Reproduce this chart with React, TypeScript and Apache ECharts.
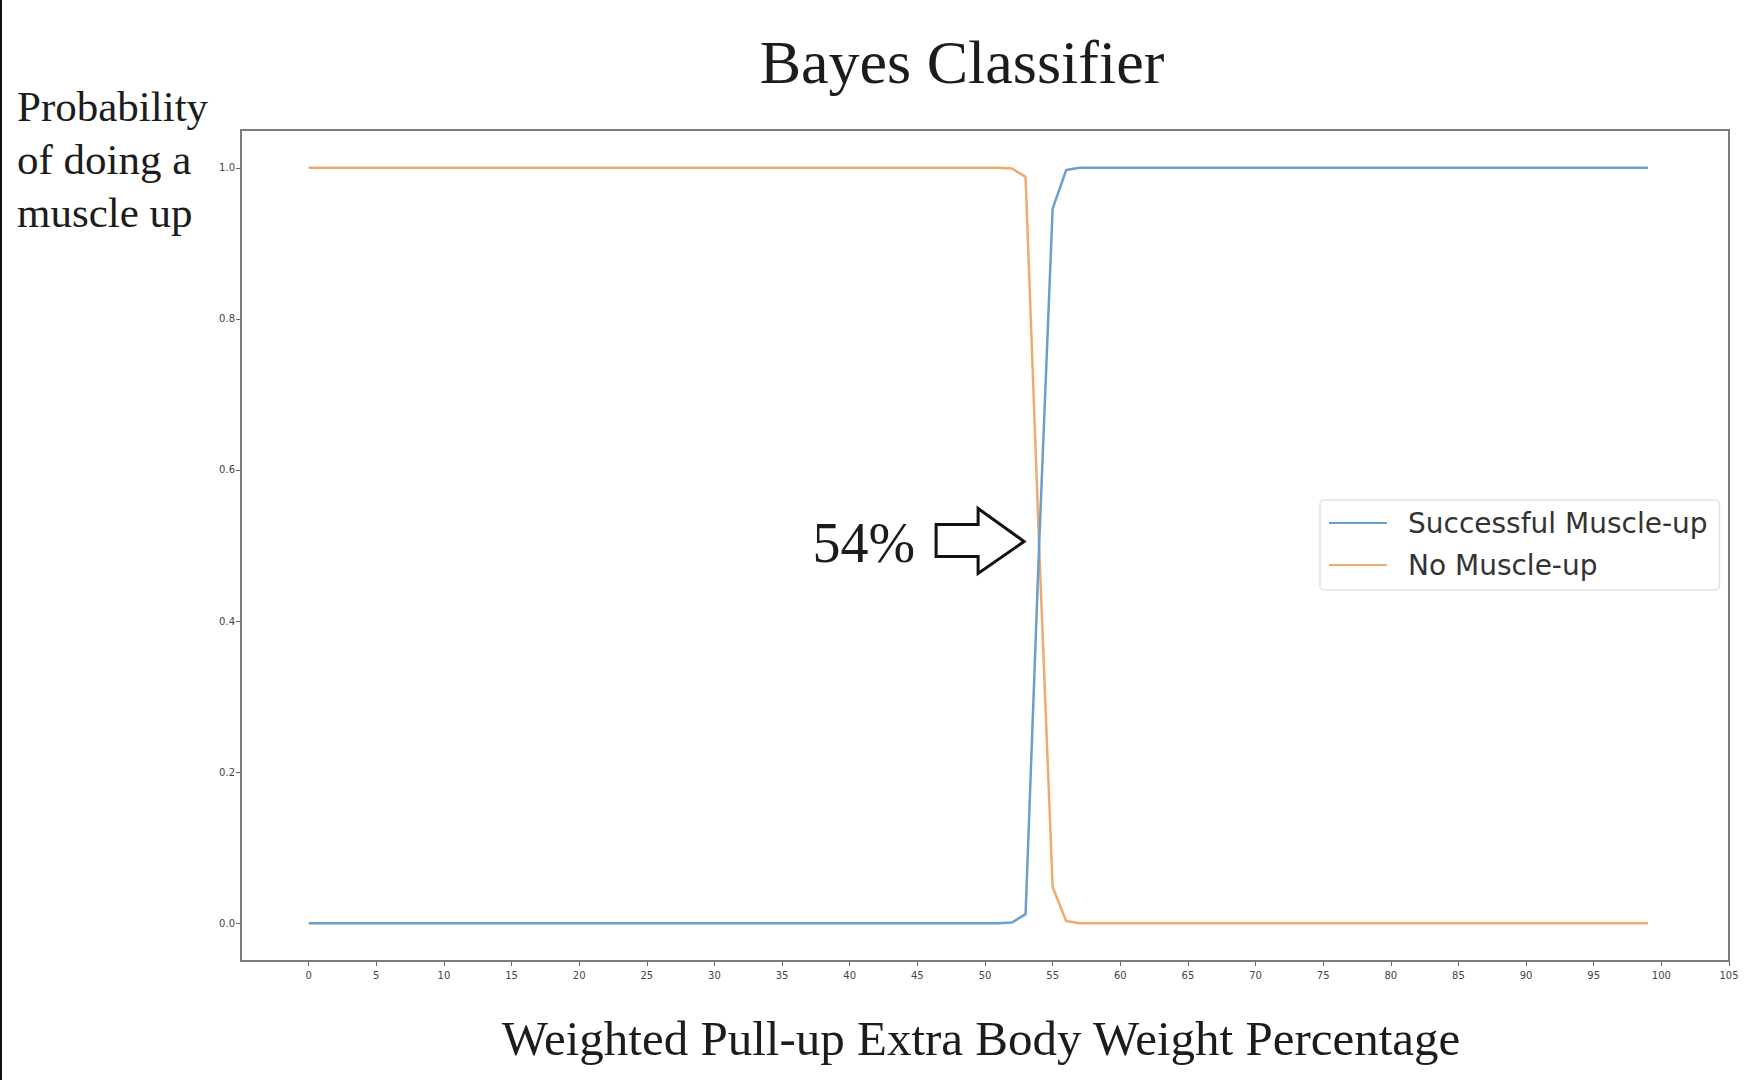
import React, { useEffect, useRef } from "react";
import * as echarts from "echarts";

// x positions (weighted pull-up extra body weight, %)
const xValues: number[] = Array.from({ length: 100 }, (_, i) => i);

const successProb: number[] = [
  0, 0, 0, 0, 0, 0, 0, 0, 0, 0,
  0, 0, 0, 0, 0, 0, 0, 0, 0, 0,
  0, 0, 0, 0, 0, 0, 0, 0, 0, 0,
  0, 0, 0, 0, 0, 0, 0, 0, 0, 0,
  0, 0, 0, 0, 0, 0, 0, 0, 0, 0,
  0, 0, 0.001, 0.012, 0.5, 0.946, 0.997, 1, 1, 1,
  1, 1, 1, 1, 1, 1, 1, 1, 1, 1,
  1, 1, 1, 1, 1, 1, 1, 1, 1, 1,
  1, 1, 1, 1, 1, 1, 1, 1, 1, 1,
  1, 1, 1, 1, 1, 1, 1, 1, 1, 1,
];

const noMuscleProb: number[] = [
  1, 1, 1, 1, 1, 1, 1, 1, 1, 1,
  1, 1, 1, 1, 1, 1, 1, 1, 1, 1,
  1, 1, 1, 1, 1, 1, 1, 1, 1, 1,
  1, 1, 1, 1, 1, 1, 1, 1, 1, 1,
  1, 1, 1, 1, 1, 1, 1, 1, 1, 1,
  1, 1, 0.999, 0.988, 0.5, 0.048, 0.003, 0, 0, 0,
  0, 0, 0, 0, 0, 0, 0, 0, 0, 0,
  0, 0, 0, 0, 0, 0, 0, 0, 0, 0,
  0, 0, 0, 0, 0, 0, 0, 0, 0, 0,
  0, 0, 0, 0, 0, 0, 0, 0, 0, 0,
];

const xTicks: number[] = [0, 5, 10, 15, 20, 25, 30, 35, 40, 45, 50, 55, 60, 65, 70, 75, 80, 85, 90, 95, 100, 105];
const yTicks: number[] = [0, 0.2, 0.4, 0.6, 0.8, 1.0];

const seriesNames = ["Successful Muscle-up", "No Muscle-up"];
const titleText = "Bayes Classifier";
const yTitleLines = ["Probability", "of doing a", "muscle up"];
const xTitleText = "Weighted Pull-up Extra Body Weight Percentage";
const annotationText = "54%";
const annotationPoint: [number, number] = [54, 0.5];

const SERIF = '"Liberation Serif", "Times New Roman", serif';
const SANS = '"DejaVu Sans", sans-serif';

export default function App() {
  const ref = useRef<HTMLDivElement>(null);

  useEffect(() => {
    document.body.style.margin = "0";
    const chart = echarts.init(ref.current!, null, { renderer: "svg" });
    chart.setOption({
      animation: false,
      backgroundColor: "#ffffff",
      grid: {
        left: 241,
        right: 29,
        top: 130,
        bottom: 119,
        show: true,
        borderColor: "#7d7d7d",
        borderWidth: 2,
        backgroundColor: "transparent",
      },
      xAxis: {
        type: "value",
        min: -5,
        max: 105,
        axisLine: { show: false, onZero: false },
        splitLine: { show: false },
        axisTick: {
          show: true,
          length: 5,
          customValues: xTicks,
          lineStyle: { color: "#666", width: 1 },
        },
        axisLabel: {
          customValues: xTicks,
          fontSize: 10,
          fontFamily: SANS,
          color: "#444",
          margin: 9,
        },
      },
      yAxis: {
        type: "value",
        min: -0.05,
        max: 1.05,
        axisLine: { show: false, onZero: false },
        splitLine: { show: false },
        axisTick: {
          show: true,
          length: 5,
          customValues: yTicks,
          lineStyle: { color: "#666", width: 1 },
        },
        axisLabel: {
          customValues: yTicks,
          fontSize: 10,
          fontFamily: SANS,
          color: "#444",
          margin: 6,
          formatter: (v: number) => v.toFixed(1),
        },
      },
      legend: {
        orient: "vertical",
        left: 1320,
        top: 500,
        padding: [9, 12, 11, 8],
        itemWidth: 58,
        itemHeight: 14,
        itemGap: 14,
        backgroundColor: "#ffffff",
        borderColor: "#e2e2e2",
        borderWidth: 1.5,
        borderRadius: 4,
        itemStyle: { opacity: 0 },
        textStyle: {
          fontFamily: SANS,
          fontSize: 28,
          color: "#333",
          padding: [0, 0, 0, 16],
        },
        data: seriesNames,
      },
      series: [
        {
          name: seriesNames[0],
          type: "line",
          symbol: "none",
          showSymbol: false,
          data: xValues.map((x, i) => [x, successProb[i]]),
          lineStyle: { color: "#6b9fcb", width: 2.5 },
          itemStyle: { color: "#6b9fcb" },
          z: 3,
        },
        {
          name: seriesNames[1],
          type: "line",
          symbol: "none",
          showSymbol: false,
          data: xValues.map((x, i) => [x, noMuscleProb[i]]),
          lineStyle: { color: "#eeaa6e", width: 2.5 },
          itemStyle: { color: "#eeaa6e" },
          z: 2,
        },
      ],
    });

    const p = chart.convertToPixel({ gridIndex: 0 }, annotationPoint) as number[];
    const cx = p[0];
    const cy = p[1];
    const arrowPts: number[][] = [
      [-103, -21],
      [-61, -21],
      [-61, -37],
      [-15, -4],
      [-61, 28],
      [-61, 11],
      [-103, 11],
    ].map(([dx, dy]) => [cx + dx, cy + dy]);

    chart.setOption({
      graphic: [
        {
          type: "rect",
          shape: { x: 0, y: 0, width: 2, height: 1080 },
          style: { fill: "#111" },
          silent: true,
        },
        {
          type: "text",
          x: 962,
          y: 62,
          style: {
            text: titleText,
            fontFamily: SERIF,
            fontSize: 62,
            fill: "#1c1c1c",
            align: "center",
            verticalAlign: "middle",
          },
        },
        ...yTitleLines.map((t, i) => ({
          type: "text",
          x: 17,
          y: 106 + i * 53,
          style: {
            text: t,
            fontFamily: SERIF,
            fontSize: 43,
            fill: "#1c1c1c",
            align: "left",
            verticalAlign: "middle",
          },
        })),
        {
          type: "text",
          x: 981,
          y: 1038,
          style: {
            text: xTitleText,
            fontFamily: SERIF,
            fontSize: 49,
            fill: "#1c1c1c",
            align: "center",
            verticalAlign: "middle",
          },
        },
        {
          type: "text",
          x: cx - 124,
          y: cy - 3,
          style: {
            text: annotationText,
            fontFamily: SERIF,
            fontSize: 56,
            fill: "#1c1c1c",
            align: "right",
            verticalAlign: "middle",
          },
          z: 10,
        },
        {
          type: "polygon",
          shape: { points: arrowPts },
          style: { fill: "#ffffff", stroke: "#111", lineWidth: 3, lineJoin: "miter" },
          z: 10,
        },
      ],
    });

    return () => chart.dispose();
  }, []);

  return (
    <div
      ref={ref}
      style={{ width: 1758, height: 1080, position: "absolute", left: 0, top: 0, background: "#fff" }}
    />
  );
}
